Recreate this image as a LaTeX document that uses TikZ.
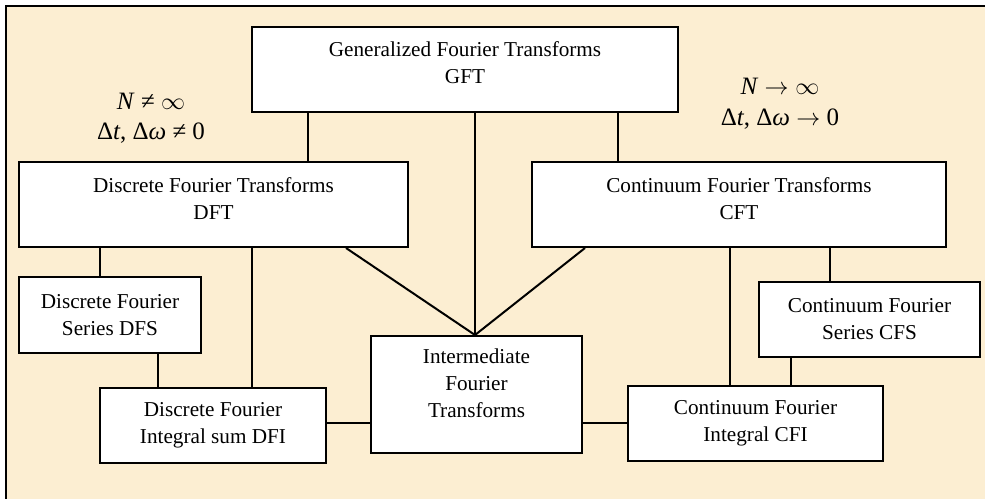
\documentclass[tikz,border=0pt]{standalone}
\usepackage{fontspec}
\setmainfont{Liberation Serif}

\definecolor{parchment}{RGB}{252,238,210}

\tikzset{
	box/.style={draw, fill=white, line width=1pt, inner sep=0pt, align=center, font=\fontsize{10.6}{13.5}\selectfont},
	txt/.style={align=center, inner sep=0pt, font=\fontsize{10.6}{13.5}\selectfont},
	cond/.style={align=center, inner sep=0pt, font=\fontsize{12.5}{15.25}\selectfont},
	link/.style={line width=1pt}
}

\begin{document}
\begin{tikzpicture}[x=0.5pt, y=-0.5pt]
		\useasboundingbox (0,0) rectangle (985,498);
		\clip (0,0) rectangle (985,498);
		\fill[white] (0,0) rectangle (985,498);
		\draw[line width=1pt, fill=parchment] (6,6) rectangle (1000,510);

		\node[box, minimum width=213pt, minimum height=42.5pt] (gft) at (465,69.5) {};
		\node[txt] (gft-txt) at ([yshift=3.25pt]gft.center) {Generalized Fourier Transforms\\GFT};

		\node[box, minimum width=194.5pt, minimum height=42.5pt] (dft) at (213.5,204.5) {};
		\node[txt] (dft-txt) at ([yshift=3pt]dft.center) {Discrete Fourier Transforms\\DFT};

		\node[box, minimum width=207pt, minimum height=42.5pt] (cft) at (739,204.5) {};
		\node[txt] (cft-txt) at ([yshift=3pt]cft.center) {Continuum Fourier Transforms\\CFT};

		\node[box, minimum width=105.5pt, minimum height=58.5pt] (ift) at (476.5,394.5) {};
		\node[txt] (ift-txt) at ([yshift=5.75pt]ift.center) {Intermediate\\Fourier\\Transforms};

		\node[box, minimum width=91pt, minimum height=38pt] (dfs) at (110,315) {Discrete Fourier\\Series DFS};
		\node[box, minimum width=113pt, minimum height=37.5pt] (dfi) at (213,425.5) {Discrete Fourier\\Integral sum DFI};
		\node[box, minimum width=110.5pt, minimum height=37.5pt] (cfs) at (869.5,319.5) {Continuum Fourier\\Series CFS};
		\node[box, minimum width=127.5pt, minimum height=37.5pt] (cfi) at (755.5,423.5) {Continuum Fourier\\Integral CFI};

		\draw[link] (gft.south -| 308,0) -- (dft.north -| 308,0);
		\draw[link] (gft.south -| 618,0) -- (cft.north -| 618,0);
		\draw[link] (gft.south -| 475,0) -- (ift.north -| 475,0);
		\draw[link] (dft.south -| 346,0) -- (ift.north -| 475,0);
		\draw[link] (cft.south -| 585,0) -- (ift.north -| 475,0);

		\draw[link] (dft.south -| 100,0) -- (dfs.north -| 100,0);
		\draw[link] (dfs.south -| 158,0) -- (dfi.north -| 158,0);
		\draw[link] (dft.south -| 252,0) -- (dfi.north -| 252,0);
		\draw[link] (dfi.east |- 0,423) -- (ift.west |- 0,423);

		\draw[link] (ift.east |- 0,423) -- (cfi.west |- 0,423);
		\draw[link] (cft.south -| 730,0) -- (cfi.north -| 730,0);
		\draw[link] (cft.south -| 830,0) -- (cfs.north -| 830,0);
		\draw[link] (cfs.south -| 791,0) -- (cfi.north -| 791,0);

		\node[cond] (dcond) at (151,118) {\textit{N} ≠ $\infty$\\Δ\textit{t}, Δ\textit{ω} ≠ 0};
		\node[cond] (ccond) at (780,103.5) {\textit{N} $\rightarrow\infty$\\Δ\textit{t}, Δ\textit{ω} $\rightarrow$ 0};
	\end{tikzpicture}
\end{document}
